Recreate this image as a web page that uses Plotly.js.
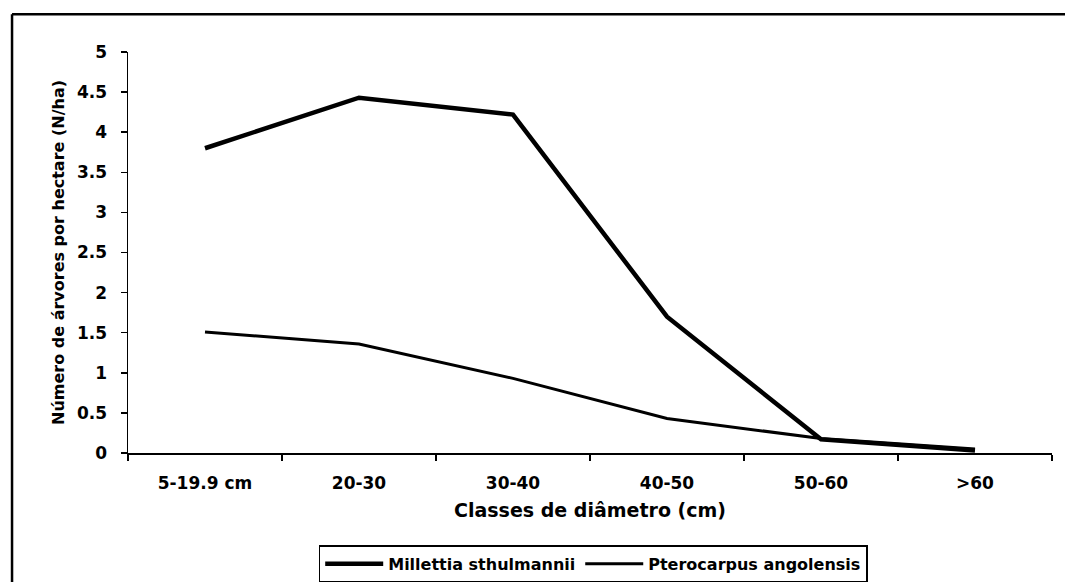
<!DOCTYPE html>
<html><head><meta charset="utf-8">
<script src="https://cdn.plot.ly/plotly-3.0.1.min.js"></script>
<style>html,body{margin:0;padding:0;background:#fff}#c{width:1065px;height:582px}</style>
</head><body><div id="c"></div>
<script>
var categories = ["5-19.9 cm", "20-30", "30-40", "40-50", "50-60", ">60"];
var millettia = [3.8, 4.43, 4.22, 1.7, 0.17, 0.03];
var pterocarpus = [1.51, 1.36, 0.93, 0.43, 0.18, 0.05];
var yTicks = [0, 0.5, 1, 1.5, 2, 2.5, 3, 3.5, 4, 4.5, 5];
var yTickLabels = ["0", "0.5", "1", "1.5", "2", "2.5", "3", "3.5", "4", "4.5", "5"];

var F = "DejaVu Sans, Verdana, sans-serif";
var traces = [
  {x: categories, y: millettia, type: "scatter", mode: "lines", name: "Millettia sthulmannii",
   line: {color: "#000", width: 4.5}},
  {x: categories, y: pterocarpus, type: "scatter", mode: "lines", name: "Pterocarpus angolensis",
   line: {color: "#000", width: 3}}
];
var layout = {
  width: 1065, height: 582,
  margin: {l: 128, r: 13, t: 52, b: 129},
  paper_bgcolor: "#fff", plot_bgcolor: "#fff",
  font: {family: F, color: "#000", size: 16, weight: "bold"},
  showlegend: true,
  legend: {orientation: "h", xref: "container", yref: "container", x: 0.557, xanchor: "center", y: 0.031, yanchor: "middle",
    bordercolor: "#000", borderwidth: 1.5, bgcolor: "#fff",
    font: {family: F, size: 16, color: "#000", weight: "bold"}, itemwidth: 58, traceorder: "normal"},
  xaxis: {type: "category", range: [-0.5, 5.5], tickson: "boundaries", ticks: "outside", ticklen: 6,
    tickcolor: "#000", tickwidth: 1.5, showline: true, linecolor: "#000", linewidth: 1.5,
    showgrid: false, zeroline: false, fixedrange: true, ticklabelstandoff: 14,
    tickfont: {family: F, size: 17, color: "#000", weight: "bold"},
    title: {text: "Classes de diâmetro (cm)", standoff: 12, font: {family: F, size: 19, color: "#000", weight: "bold"}}},
  yaxis: {range: [0, 5], tickmode: "array", tickvals: yTicks, ticktext: yTickLabels,
    ticks: "outside", ticklen: 6, tickcolor: "#000", tickwidth: 1.5, showline: true, linecolor: "#000", linewidth: 1.5,
    showgrid: false, zeroline: false, fixedrange: true, ticklabelstandoff: 10,
    tickfont: {family: F, size: 17, color: "#000", weight: "bold"},
    title: {text: "Número de árvores por hectare (N/ha)", standoff: 8, font: {family: F, size: 16, color: "#000", weight: "bold"}}},
  shapes: [
    {type: "line", xref: "paper", yref: "paper", x0: -0.1255, x1: 1.02, y0: 1.0943, y1: 1.0943, line: {color: "#000", width: 2.5}},
    {type: "line", xref: "paper", yref: "paper", x0: -0.1255, x1: -0.1255, y0: 1.0943, y1: -0.33, line: {color: "#000", width: 2.5}}
  ]
};
Plotly.newPlot("c", traces, layout, {displayModeBar: false, staticPlot: true});
</script></body></html>
